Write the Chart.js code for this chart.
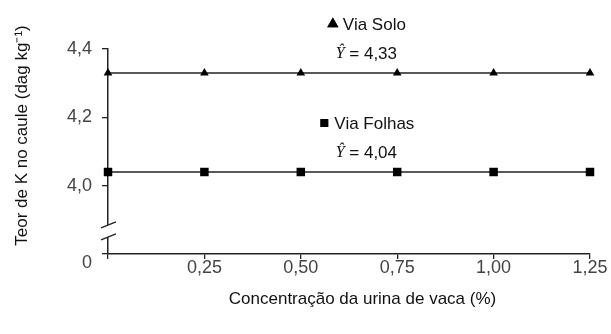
<!DOCTYPE html>
<html>
<head>
<meta charset="utf-8">
<script src="https://cdn.jsdelivr.net/npm/chart.js@4"></script>
<style>
  html, body { margin: 0; padding: 0; background: #fff; }
  #wrap { width: 611px; height: 334px; }
</style>
</head>
<body>
<div id="wrap"><canvas id="graph" width="611" height="334"></canvas></div>
<script>
// Data
const concentracoes = [0, 0.25, 0.5, 0.75, 1.0, 1.25];
const viaSolo       = [4.33, 4.33, 4.33, 4.33, 4.33, 4.33];
const viaFolhas     = [4.04, 4.04, 4.04, 4.04, 4.04, 4.04];
const serieNomes    = ['Via Solo', 'Via Folhas'];
const equacoes      = ['4,33', '4,04'];
const xTickLabels   = ['', '0,25', '0,50', '0,75', '1,00', '1,25'];
const yTicks        = [3.8, 4.0, 4.2, 4.4];
const yTickLabels   = ['', '4,0', '4,2', '4,4'];
const xTitulo       = 'Concentração da urina de vaca (%)';
const yTitulo       = 'Teor de K no caule (dag kg⁻¹)';

const ink      = '#222';
const sans     = '"Liberation Sans", Arial, sans-serif';
const tickFont = {family: sans, size: 18, lineHeight: 1};

const toPoints = (ys) => concentracoes.map((x, i) => ({x, y: ys[i]}));

// Extra drawing: broken axis marks, "0" origin label, axis titles, series notes
const extras = {
  id: 'extras',
  afterDraw(chart) {
    const {ctx, chartArea, scales: {x, y}} = chart;
    const x0 = x.getPixelForValue(0);
    ctx.save();

    // broken axis
    const yb1 = y.getPixelForValue(3.885);
    const yb2 = y.getPixelForValue(3.85);
    ctx.fillStyle = '#fff';
    ctx.fillRect(x0 - 3, yb1, 6, yb2 - yb1);
    ctx.strokeStyle = ink;
    ctx.lineWidth = 1.3;
    for (const yb of [yb1, yb2]) {
      ctx.beginPath();
      ctx.moveTo(x0 - 7, yb + 3);
      ctx.lineTo(x0 + 8, yb - 3);
      ctx.stroke();
    }

    // origin label
    ctx.fillStyle = '#444';
    ctx.font = `18px ${sans}`;
    ctx.textAlign = 'center';
    ctx.textBaseline = 'middle';
    ctx.fillText('0', x0 - 21, chartArea.bottom + 9);

    // axis titles
    ctx.fillStyle = '#111';
    ctx.font = `17px ${sans}`;
    ctx.fillText(xTitulo, x.getPixelForValue(0.66), chartArea.bottom + 45);
    ctx.save();
    ctx.translate(22, (chartArea.top + chartArea.bottom) / 2 - 16);
    ctx.rotate(-Math.PI / 2);
    ctx.fillText(yTitulo, 0, 0);
    ctx.restore();

    // series notes above each line
    const xc = x.getPixelForValue(0.67);
    chart.data.datasets.forEach((ds, i) => {
      const yl = y.getPixelForValue(ds.data[0].y);
      const name = serieNomes[i];
      ctx.font = `17px ${sans}`;
      const wName = ctx.measureText(name).width;
      const mark = 12;
      const start = xc - (wName + mark + 4) / 2;
      ctx.fillStyle = '#000';
      Chart.helpers.drawPoint(ctx, {pointStyle: ds.pointStyle, radius: ds.pointStyle === 'triangle' ? 6.5 : 5.5, rotation: 0},
        start + mark / 2, yl - 49);
      ctx.fill();
      ctx.fillStyle = '#111';
      ctx.textAlign = 'left';
      ctx.fillText(name, start + mark + 4, yl - 48);

      const rest = ' = ' + equacoes[i];
      ctx.font = `italic 16px "Liberation Serif", serif`;
      const wY = ctx.measureText('Ŷ').width;
      ctx.font = `17px ${sans}`;
      const wRest = ctx.measureText(rest).width;
      const s2 = xc - (wY + wRest) / 2;
      ctx.font = `italic 16px "Liberation Serif", serif`;
      ctx.fillText('Ŷ', s2, yl - 19);
      ctx.font = `17px ${sans}`;
      ctx.fillText(rest, s2 + wY, yl - 19);
    });
    ctx.restore();
  }
};

new Chart(document.getElementById('graph'), {
  type: 'line',
  data: {
    datasets: [{
      label: serieNomes[0],
      data: toPoints(viaSolo),
      borderColor: ink,
      borderWidth: 1.5,
      pointStyle: 'triangle',
      pointRadius: 5,
      pointBackgroundColor: '#000',
      pointBorderColor: '#000',
      pointBorderWidth: 0,
      clip: false,
    }, {
      label: serieNomes[1],
      data: toPoints(viaFolhas),
      borderColor: ink,
      borderWidth: 1.5,
      pointStyle: 'rect',
      pointRadius: 6,
      pointBackgroundColor: '#000',
      pointBorderColor: '#000',
      pointBorderWidth: 0,
      clip: false,
    }],
  },
  options: {
    responsive: false,
    animation: false,
    layout: {padding: {top: 49, right: 21, left: 0, bottom: 0}},
    plugins: {
      legend: {display: false},
      tooltip: {enabled: false},
    },
    scales: {
      x: {
        type: 'linear',
        min: 0, max: 1.25,
        afterBuildTicks: (s) => { s.ticks = concentracoes.map(v => ({value: v})); },
        afterFit: (s) => { s.height = 80; },
        ticks: {
          callback: (v, i) => xTickLabels[i],
          font: tickFont, color: '#444', padding: 0, maxRotation: 0,
        },
        grid: {drawOnChartArea: false, drawTicks: true, tickLength: 5, color: ink, lineWidth: 1.3},
        border: {color: ink, width: 1.5},
      },
      y: {
        type: 'linear',
        min: 3.8, max: 4.4,
        afterBuildTicks: (s) => { s.ticks = yTicks.map(v => ({value: v})); },
        afterFit: (s) => { s.width = 108; },
        ticks: {
          callback: (v, i) => yTickLabels[i],
          font: tickFont, color: '#444', padding: 10,
        },
        grid: {drawOnChartArea: false, drawTicks: true, tickLength: 6, color: ink, lineWidth: 1.3},
        border: {color: ink, width: 1.5},
      },
    },
  },
  plugins: [extras],
});
</script>
</body>
</html>
